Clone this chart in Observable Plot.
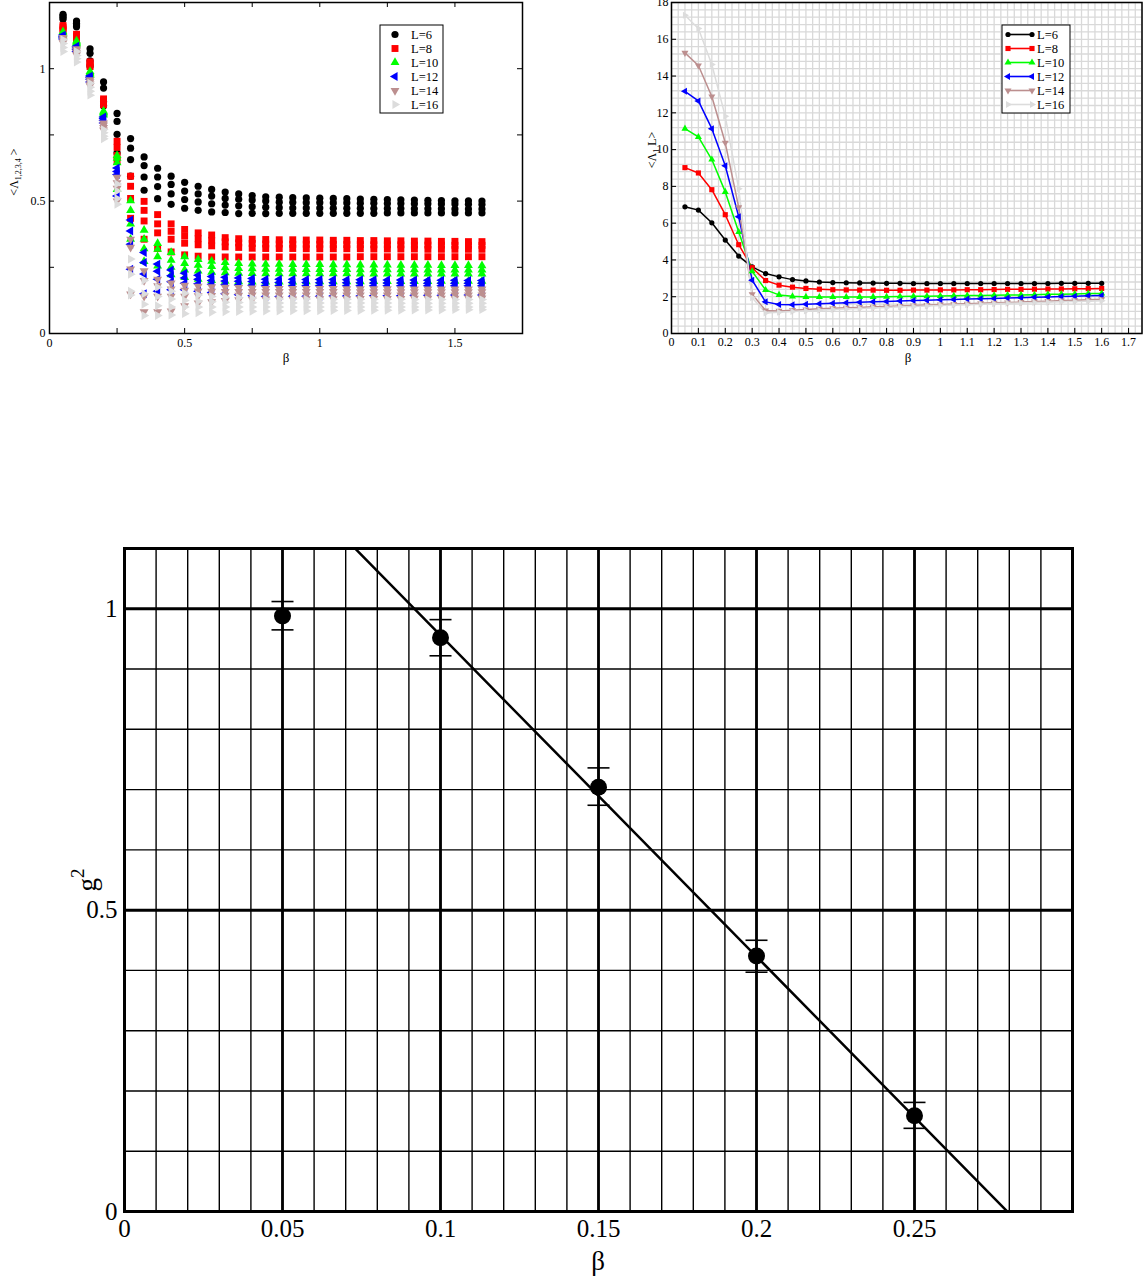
<!DOCTYPE html>
<html><head><meta charset="utf-8">
<script src="https://cdn.jsdelivr.net/npm/d3@7"></script>
<script src="https://cdn.jsdelivr.net/npm/@observablehq/plot@0.6"></script>
<style>
body{margin:0;background:#fff;}
#page{position:relative;width:1143px;height:1278px;overflow:hidden;background:#fff;font-family:"Liberation Serif",serif;}
.panel{position:absolute;}
</style></head><body><div id="page">
<div class="panel" id="tl" style="left:0;top:0"></div>
<div class="panel" id="tr" style="left:600px;top:0"></div>
<div class="panel" id="bt" style="left:0;top:500px"></div>
</div>
<script>
// ---------- shared categories ----------
const betas = [0.05,0.10,0.15,0.20,0.25,0.30,0.35,0.40,0.45,0.50,0.55,0.60,0.65,0.70,0.75,0.80,
               0.85,0.90,0.95,1.00,1.05,1.10,1.15,1.20,1.25,1.30,1.35,1.40,1.45,1.50,1.55,1.60];
const sizes = [6, 8, 10, 12, 14, 16];
const legendLabels = ["L=6", "L=8", "L=10", "L=12", "L=14", "L=16"];
const colors = ["#000000", "#ff0000", "#00ff00", "#0000ff", "#bc8f8f", "#dcdcdc"];

// ---------- top-left: <Lambda_{1,2,3,4}> (4 values per beta) ----------
const lam6 = [
 [1.205,1.200,1.193,1.187],[1.180,1.172,1.165,1.158],[1.075,1.058,1.030,1.010],[0.950,0.927,0.875,0.860],
 [0.831,0.801,0.752,0.682],[0.736,0.700,0.657,0.594],[0.667,0.634,0.591,0.541],[0.624,0.591,0.555,0.509],
 [0.594,0.563,0.527,0.488],[0.571,0.538,0.506,0.473],[0.556,0.527,0.497,0.465],[0.544,0.519,0.490,0.459],
 [0.534,0.510,0.485,0.457],[0.527,0.507,0.482,0.453],[0.521,0.504,0.479,0.454],[0.516,0.500,0.477,0.453],
 [0.515,0.496,0.475,0.454],[0.513,0.495,0.474,0.454],[0.512,0.494,0.474,0.454],[0.511,0.494,0.474,0.454],
 [0.510,0.493,0.473,0.454],[0.509,0.493,0.473,0.454],[0.508,0.492,0.473,0.454],[0.507,0.492,0.472,0.454],
 [0.506,0.491,0.472,0.455],[0.505,0.491,0.472,0.455],[0.504,0.490,0.471,0.455],[0.503,0.490,0.471,0.455],
 [0.502,0.489,0.471,0.455],[0.501,0.489,0.470,0.455],[0.501,0.488,0.470,0.455],[0.500,0.487,0.470,0.455]];
const lam8 = [
 [1.163,1.157,1.150,1.145],[1.130,1.122,1.115,1.108],[1.026,1.020,1.014,1.008],[0.886,0.880,0.872,0.864],
 [0.726,0.703,0.672,0.650],[0.594,0.556,0.510,0.435],[0.499,0.465,0.425,0.356],[0.449,0.414,0.380,0.321],
 [0.414,0.386,0.356,0.308],[0.393,0.368,0.341,0.297],[0.380,0.358,0.335,0.292],[0.372,0.352,0.331,0.289],
 [0.362,0.346,0.327,0.289],[0.358,0.342,0.325,0.289],[0.356,0.340,0.322,0.289],[0.355,0.338,0.321,0.289],
 [0.354,0.338,0.321,0.289],[0.354,0.337,0.321,0.289],[0.353,0.337,0.320,0.289],[0.353,0.337,0.320,0.289],
 [0.352,0.336,0.320,0.289],[0.352,0.336,0.320,0.289],[0.351,0.336,0.320,0.290],[0.351,0.335,0.319,0.290],
 [0.350,0.335,0.319,0.290],[0.350,0.335,0.319,0.290],[0.349,0.334,0.319,0.290],[0.349,0.334,0.318,0.290],
 [0.348,0.334,0.318,0.290],[0.348,0.333,0.318,0.290],[0.347,0.333,0.318,0.290],[0.347,0.333,0.318,0.290]];
const lam10 = [
 [1.140,1.135,1.130,1.125],[1.105,1.100,1.095,1.090],[0.990,0.985,0.980,0.975],[0.840,0.835,0.830,0.825],
 [0.672,0.662,0.645,0.544],[0.502,0.465,0.414,0.356],[0.390,0.356,0.320,0.272],[0.340,0.318,0.290,0.255],
 [0.306,0.277,0.250,0.222],[0.290,0.265,0.240,0.212],[0.280,0.258,0.236,0.205],[0.273,0.253,0.232,0.200],
 [0.268,0.249,0.230,0.198],[0.265,0.246,0.228,0.196],[0.263,0.245,0.227,0.195],[0.262,0.243,0.226,0.195],
 [0.262,0.243,0.226,0.195],[0.261,0.243,0.226,0.195],[0.261,0.242,0.226,0.196],[0.261,0.242,0.226,0.196],
 [0.260,0.242,0.226,0.196],[0.260,0.242,0.226,0.196],[0.259,0.241,0.225,0.196],[0.259,0.241,0.225,0.197],
 [0.259,0.241,0.225,0.197],[0.258,0.241,0.225,0.197],[0.258,0.241,0.225,0.197],[0.258,0.240,0.225,0.197],
 [0.257,0.240,0.225,0.198],[0.257,0.240,0.225,0.198],[0.257,0.240,0.225,0.198],[0.256,0.240,0.225,0.198]];
const lam12 = [
 [1.127,1.122,1.117,1.112],[1.085,1.078,1.072,1.065],[0.972,0.966,0.960,0.950],[0.818,0.812,0.805,0.795],
 [0.625,0.612,0.600,0.519],[0.429,0.387,0.337,0.243],[0.306,0.268,0.225,0.150],[0.262,0.235,0.205,0.160],
 [0.240,0.218,0.195,0.165],[0.228,0.210,0.190,0.165],[0.220,0.205,0.188,0.160],[0.215,0.200,0.186,0.155],
 [0.212,0.198,0.184,0.150],[0.210,0.197,0.183,0.146],[0.208,0.196,0.182,0.143],[0.205,0.193,0.180,0.140],
 [0.205,0.193,0.180,0.140],[0.205,0.193,0.180,0.141],[0.204,0.193,0.180,0.141],[0.204,0.192,0.180,0.141],
 [0.204,0.192,0.180,0.142],[0.203,0.192,0.180,0.142],[0.203,0.192,0.180,0.142],[0.203,0.191,0.180,0.143],
 [0.202,0.191,0.180,0.143],[0.202,0.191,0.180,0.143],[0.202,0.191,0.180,0.144],[0.201,0.190,0.180,0.144],
 [0.201,0.190,0.180,0.144],[0.201,0.190,0.180,0.145],[0.200,0.190,0.180,0.145],[0.200,0.190,0.180,0.145]];
const lam14 = [
 [1.118,1.112,1.105,1.098],[1.075,1.068,1.060,1.052],[0.958,0.950,0.942,0.935],[0.795,0.787,0.778,0.768],
 [0.590,0.569,0.548,0.500],[0.356,0.325,0.243,0.149],[0.237,0.200,0.140,0.082],[0.205,0.180,0.140,0.082],
 [0.190,0.168,0.140,0.085],[0.182,0.163,0.140,0.105],[0.178,0.160,0.142,0.115],[0.176,0.159,0.143,0.120],
 [0.174,0.158,0.144,0.124],[0.173,0.158,0.144,0.127],[0.172,0.158,0.145,0.129],[0.170,0.158,0.145,0.130],
 [0.170,0.158,0.145,0.130],[0.170,0.158,0.145,0.130],[0.170,0.158,0.145,0.131],[0.170,0.158,0.145,0.131],
 [0.170,0.158,0.145,0.131],[0.169,0.157,0.145,0.131],[0.169,0.157,0.145,0.132],[0.169,0.157,0.145,0.132],
 [0.169,0.157,0.145,0.132],[0.169,0.157,0.145,0.132],[0.168,0.157,0.145,0.133],[0.168,0.157,0.145,0.133],
 [0.168,0.157,0.145,0.133],[0.168,0.157,0.145,0.133],[0.168,0.157,0.145,0.134],[0.168,0.157,0.145,0.134]];
const lam16 = [
 [1.110,1.095,1.080,1.065],[1.065,1.050,1.038,1.025],[0.945,0.930,0.915,0.900],[0.770,0.758,0.745,0.735],
 [0.565,0.538,0.510,0.488],[0.281,0.224,0.160,0.145],[0.200,0.150,0.110,0.068],[0.175,0.140,0.105,0.068],
 [0.160,0.130,0.100,0.070],[0.152,0.125,0.100,0.075],[0.145,0.122,0.100,0.078],[0.140,0.120,0.100,0.080],
 [0.137,0.118,0.100,0.082],[0.135,0.117,0.100,0.083],[0.133,0.116,0.100,0.084],[0.130,0.115,0.100,0.085],
 [0.130,0.115,0.100,0.085],[0.130,0.115,0.100,0.086],[0.130,0.115,0.100,0.086],[0.130,0.115,0.100,0.086],
 [0.129,0.115,0.100,0.087],[0.129,0.115,0.100,0.087],[0.129,0.115,0.100,0.087],[0.129,0.115,0.100,0.088],
 [0.129,0.115,0.100,0.088],[0.129,0.114,0.100,0.088],[0.128,0.114,0.100,0.089],[0.128,0.114,0.100,0.089],
 [0.128,0.114,0.100,0.089],[0.128,0.114,0.100,0.090],[0.128,0.114,0.100,0.090],[0.128,0.114,0.100,0.090]];

// ---------- top-right: <Lambda_1 L> ----------
const lamL6  = [6.89,6.71,6.02,5.08,4.21,3.62,3.26,3.08,2.93,2.86,2.80,2.77,2.76,2.75,2.74,2.73,
                2.73,2.72,2.72,2.72,2.72,2.72,2.72,2.72,2.72,2.72,2.72,2.72,2.73,2.73,2.73,2.73];
const lamL8  = [9.02,8.73,7.82,6.46,4.83,3.58,2.88,2.63,2.52,2.45,2.41,2.38,2.37,2.36,2.36,2.35,
                2.35,2.36,2.36,2.37,2.37,2.38,2.38,2.39,2.40,2.40,2.41,2.42,2.42,2.43,2.44,2.45];
const lamL10 = [11.14,10.69,9.46,7.70,5.52,3.38,2.37,2.10,2.02,1.99,1.98,1.98,1.98,1.99,1.99,2.00,
                2.01,2.02,2.03,2.04,2.05,2.06,2.07,2.08,2.09,2.10,2.11,2.13,2.14,2.15,2.17,2.18];
const lamL12 = [13.17,12.65,11.14,9.12,6.35,2.90,1.72,1.58,1.57,1.59,1.62,1.65,1.67,1.70,1.72,1.74,
                1.77,1.79,1.81,1.83,1.85,1.87,1.89,1.91,1.93,1.95,1.97,1.99,2.01,2.03,2.05,2.07];
const lamL14 = [15.26,14.57,12.89,10.37,6.86,2.14,1.25,1.23,1.27,1.31,1.34,1.37,1.40,1.42,1.45,1.47,
                1.50,1.52,1.55,1.57,1.60,1.62,1.64,1.67,1.69,1.71,1.74,1.76,1.79,1.81,1.84,1.86];
const lamL16 = [17.31,16.59,14.63,11.81,7.87,1.95,1.12,1.15,1.19,1.23,1.27,1.30,1.33,1.36,1.39,1.42,
                1.45,1.47,1.50,1.52,1.55,1.57,1.59,1.62,1.64,1.66,1.68,1.70,1.72,1.74,1.76,1.78];

// ---------- bottom: g^2 vs beta ----------
const gBeta = [0.05, 0.10, 0.15, 0.20, 0.25];
const g2    = [0.988, 0.952, 0.704, 0.424, 0.159];
const g2Lo  = [0.965, 0.922, 0.674, 0.397, 0.138];
const g2Hi  = [1.012, 0.982, 0.736, 0.450, 0.181];
const fitSlope = -5.33, fitIntercept = 1.489;

// ---------- tick labels ----------
const tlXTicks = [0, 0.5, 1, 1.5];
const tlYTicks = [0, 0.5, 1];
const trXTicks = [0,0.1,0.2,0.3,0.4,0.5,0.6,0.7,0.8,0.9,1,1.1,1.2,1.3,1.4,1.5,1.6,1.7];
const trYTicks = [0,2,4,6,8,10,12,14,16,18];
const btXTicks = [0, 0.05, 0.1, 0.15, 0.2, 0.25];
const btYTicks = [0, 0.5, 1];

// ---------- symbols ----------
const triSym = ang => ({draw(ctx, size) {
  const r = Math.sqrt(size / 1.299);
  for (let i = 0; i < 3; i++) {
    const a = ang + i * 2 * Math.PI / 3, px = r * Math.cos(a), py = r * Math.sin(a);
    if (i === 0) ctx.moveTo(px, py); else ctx.lineTo(px, py);
  }
  ctx.closePath();
}});
const hbar = {draw(ctx, size) { const r = Math.sqrt(size / Math.PI); ctx.moveTo(-r, 0); ctx.lineTo(r, 0); }};
const symbols = [d3.symbolCircle, d3.symbolSquare, triSym(-Math.PI/2), triSym(Math.PI), triSym(Math.PI/2), triSym(0)];
const tlR = [3.6, 3.9, 3.3, 3.3, 3.3, 3.3];
const trR = [2.6, 2.9, 2.6, 2.6, 2.6, 2.6];
const fmt = d => String(+(+d).toFixed(2));
const serif = "Liberation Serif";

function legend(svg, x0, y0, w, h, withLine, rr) {
  const g = svg.append("g").attr("text-anchor", "start");
  g.append("rect").attr("x", x0).attr("y", y0).attr("width", w).attr("height", h)
    .attr("fill", "white").attr("stroke", "black").attr("stroke-width", 1);
  sizes.forEach((L, i) => {
    const y = y0 + 9.5 + 14 * i;
    const sym = d3.symbol().type(symbols[i]).size(Math.PI * rr[i] * rr[i]);
    if (withLine) {
      g.append("line").attr("x1", x0 + 6).attr("x2", x0 + 30).attr("y1", y).attr("y2", y)
        .attr("stroke", colors[i]).attr("stroke-width", 1.6);
      [x0 + 6, x0 + 30].forEach(px => g.append("path").attr("d", sym()).attr("fill", colors[i])
        .attr("transform", `translate(${px},${y})`));
    } else {
      g.append("path").attr("d", sym()).attr("fill", colors[i]).attr("transform", `translate(${x0 + 15},${y})`);
    }
    g.append("text").attr("x", withLine ? x0 + 35 : x0 + 31).attr("y", y + 4.5)
      .attr("text-anchor", "start")
      .attr("font-family", serif).attr("font-size", 12.5).attr("fill", "black").text(legendLabels[i]);
  });
}

// ================= top-left =================
{
  const W = 560, H = 370, mL = 49, mR = 38, mT = 2, mB = 37;
  const iW = W - mL - mR, iH = H - mT - mB;
  const tables = [lam6, lam8, lam10, lam12, lam14, lam16];
  const data = tables.map(t => t.flatMap((row, j) => row.map(v => ({b: betas[j], v}))));
  const tickMarksX = [0, 0.25, 0.5, 0.75, 1, 1.25, 1.5];
  const tickMarksY = [0.25, 0.5, 0.75, 1];
  const plot = Plot.plot({
    width: W, height: H, marginLeft: mL, marginRight: mR, marginTop: mT, marginBottom: mB,
    x: {domain: [0, 1.75]}, y: {domain: [0, 1.25]},
    style: {fontFamily: serif, fontSize: "12px", color: "black", background: "white"},
    marks: [
      ...data.map((d, i) => Plot.dot(d, {x: "b", y: "v", symbol: symbols[i], r: tlR[i], fill: colors[i], stroke: "none"})),
      Plot.tickX(tickMarksX, {x: d => d, insetTop: iH - 5, stroke: "black"}),
      Plot.tickX(tickMarksX, {x: d => d, insetBottom: iH - 5, stroke: "black"}),
      Plot.tickY(tickMarksY, {y: d => d, insetRight: iW - 5, stroke: "black"}),
      Plot.tickY(tickMarksY, {y: d => d, insetLeft: iW - 5, stroke: "black"}),
      Plot.frame({stroke: "black", strokeWidth: 1.5}),
      Plot.axisX({ticks: tlXTicks, tickSize: 0, tickPadding: 5, tickFormat: fmt, label: null, fontFamily: serif, fontSize: 12}),
      Plot.axisY({ticks: tlYTicks, tickSize: 0, tickPadding: 4, tickFormat: fmt, label: null, fontFamily: serif, fontSize: 12})
    ]
  });
  document.getElementById("tl").append(plot);
  const svg = d3.select(plot);
  legend(svg, 380, 25, 63, 88, false, tlR);
  svg.append("text").attr("x", 286).attr("y", 362).attr("text-anchor", "middle")
    .attr("font-family", serif).attr("font-size", 13).attr("fill", "black").text("β");
  const yl = svg.append("text").attr("transform", "translate(18,172) rotate(-90)").attr("text-anchor", "middle")
    .attr("font-family", serif).attr("font-size", 12).attr("fill", "black");
  yl.append("tspan").text("<Λ");
  yl.append("tspan").attr("dy", 3).attr("font-size", 8).text("1,2,3,4");
  yl.append("tspan").attr("dy", -3).text(" >");
}

// ================= top-right =================
{
  const W = 543, H = 370, mL = 71, mR = 1.5, mT = 2, mB = 37;
  const iW = W - mL - mR, iH = H - mT - mB;
  const tables = [lamL6, lamL8, lamL10, lamL12, lamL14, lamL16];
  const data = tables.map(t => t.map((v, j) => ({b: betas[j], v})));
  const gridX = d3.range(0, 71).map(i => i * 0.025);
  const gridY = d3.range(0, 46).map(i => i * 0.4);
  const plot = Plot.plot({
    width: W, height: H, marginLeft: mL, marginRight: mR, marginTop: mT, marginBottom: mB,
    x: {domain: [0, 1.75]}, y: {domain: [0, 18]},
    style: {fontFamily: serif, fontSize: "12px", color: "black", background: "white"},
    marks: [
      Plot.ruleX(gridX, {x: d => d, stroke: "#d9d9d9", strokeWidth: 1.3}),
      Plot.ruleY(gridY, {y: d => d, stroke: "#d9d9d9", strokeWidth: 1.3}),
      ...data.map((d, i) => Plot.line(d, {x: "b", y: "v", stroke: colors[i], strokeWidth: 1.5})),
      ...data.map((d, i) => Plot.dot(d, {x: "b", y: "v", symbol: symbols[i], r: trR[i], fill: colors[i], stroke: "none"})),
      Plot.tickX(trXTicks, {x: d => d, insetTop: iH - 5, stroke: "black"}),
      Plot.tickY(trYTicks, {y: d => d, insetRight: iW - 5, stroke: "black"}),
      Plot.frame({stroke: "black", strokeWidth: 1.5}),
      Plot.axisX({ticks: trXTicks, tickSize: 0, tickPadding: 4, tickFormat: fmt, label: null, fontFamily: serif, fontSize: 12}),
      Plot.axisY({ticks: trYTicks, tickSize: 0, tickPadding: 3, tickFormat: fmt, label: null, fontFamily: serif, fontSize: 12})
    ]
  });
  document.getElementById("tr").append(plot);
  const svg = d3.select(plot);
  legend(svg, 402, 25, 68, 88, true, trR);
  svg.append("text").attr("x", 308).attr("y", 362).attr("text-anchor", "middle")
    .attr("font-family", serif).attr("font-size", 13).attr("fill", "black").text("β");
  const yl = svg.append("text").attr("transform", "translate(56,150) rotate(-90)").attr("text-anchor", "middle")
    .attr("font-family", serif).attr("font-size", 12).attr("fill", "black");
  yl.append("tspan").text("<Λ");
  yl.append("tspan").attr("dy", 3).attr("font-size", 8).text("1");
  yl.append("tspan").attr("dy", -3).text(" L>");
}

// ================= bottom =================
{
  const W = 1143, H = 778, mL = 124, mR = 71, mT = 48, mB = 67;
  const pts = gBeta.map((b, i) => ({b, g: g2[i], lo: g2Lo[i], hi: g2Hi[i]}));
  const fit = [0, 0.3].map(b => ({b, g: fitIntercept + fitSlope * b}));
  const gridXMinor = d3.range(1, 30).map(i => i / 100);
  const gridXMajor = [0.05, 0.1, 0.15, 0.2, 0.25];
  const gridYMinor = d3.range(1, 11).map(i => i / 10);
  const gridYMajor = [0.5, 1];
  const plot = Plot.plot({
    width: W, height: H, marginLeft: mL, marginRight: mR, marginTop: mT, marginBottom: mB,
    x: {domain: [0, 0.3]}, y: {domain: [0, 1.1]},
    style: {fontFamily: serif, fontSize: "24px", color: "black", background: "white"},
    marks: [
      Plot.ruleX(gridXMinor, {x: d => d, stroke: "black", strokeWidth: 1.4}),
      Plot.ruleX(gridXMajor, {x: d => d, stroke: "black", strokeWidth: 2.8}),
      Plot.ruleY(gridYMinor, {y: d => d, stroke: "black", strokeWidth: 1.4}),
      Plot.ruleY(gridYMajor, {y: d => d, stroke: "black", strokeWidth: 3}),
      Plot.frame({stroke: "black", strokeWidth: 3}),
      Plot.line(fit, {x: "b", y: "g", stroke: "black", strokeWidth: 2.5, clip: true}),
      Plot.ruleX(pts, {x: "b", y1: "lo", y2: "hi", stroke: "black", strokeWidth: 1.5}),
      Plot.dot(pts, {x: "b", y: "lo", symbol: hbar, r: 11, stroke: "black", strokeWidth: 1.6, fill: "none"}),
      Plot.dot(pts, {x: "b", y: "hi", symbol: hbar, r: 11, stroke: "black", strokeWidth: 1.6, fill: "none"}),
      Plot.dot(pts, {x: "b", y: "g", r: 8.5, fill: "black", stroke: "none"}),
      Plot.axisX({ticks: btXTicks, tickSize: 0, tickPadding: 8, tickFormat: fmt, label: null, fontFamily: serif, fontSize: 25}),
      Plot.axisY({ticks: btYTicks, tickSize: 0, tickPadding: 7, tickFormat: fmt, label: null, fontFamily: serif, fontSize: 25})
    ]
  });
  document.getElementById("bt").append(plot);
  const svg = d3.select(plot);
  svg.append("text").attr("x", 598).attr("y", 770).attr("text-anchor", "middle")
    .attr("font-family", serif).attr("font-size", 27).attr("fill", "black").text("β");
  const yl = svg.append("text").attr("transform", "translate(96,380) rotate(-90)").attr("text-anchor", "middle")
    .attr("font-family", serif).attr("font-size", 27).attr("fill", "black");
  yl.append("tspan").text("g");
  yl.append("tspan").attr("dy", -12).attr("font-size", 19).text("2");
}
</script>
</body></html>
